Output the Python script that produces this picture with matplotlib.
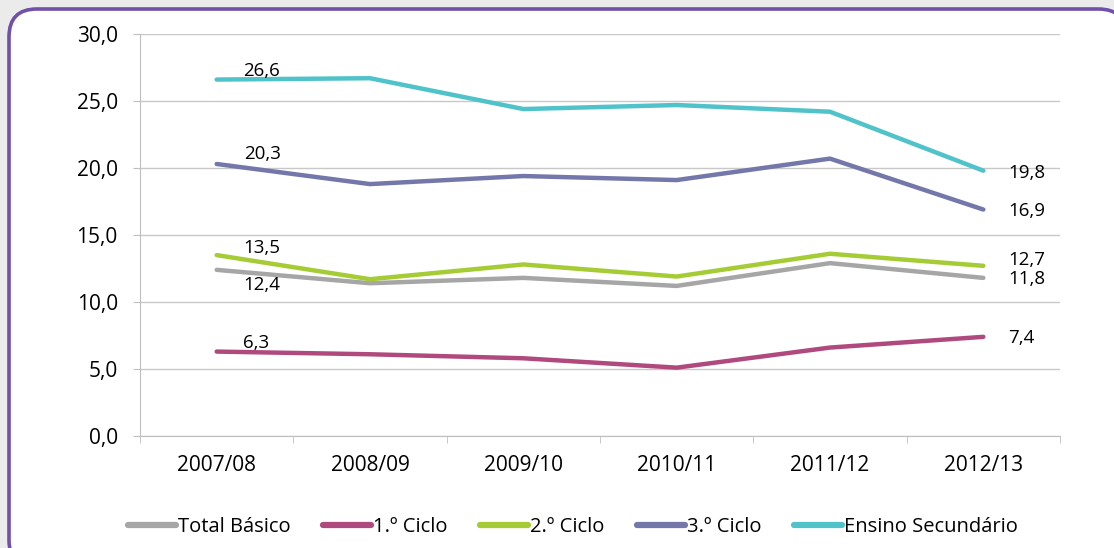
import matplotlib
matplotlib.use("Agg")
import matplotlib.pyplot as plt
from matplotlib.patches import FancyBboxPatch

plt.rcParams['font.family'] = ['Open Sans', 'DejaVu Sans']

years = ['2007/08', '2008/09', '2009/10', '2010/11', '2011/12', '2012/13']
total_basico = [12.4, 11.4, 11.8, 11.2, 12.9, 11.8]
ciclo1 = [6.3, 6.1, 5.8, 5.1, 6.6, 7.4]
ciclo2 = [13.5, 11.7, 12.8, 11.9, 13.6, 12.7]
ciclo3 = [20.3, 18.8, 19.4, 19.1, 20.7, 16.9]
secundario = [26.6, 26.7, 24.4, 24.7, 24.2, 19.8]

series = [
    ('Total Básico', total_basico, '#a6a6a6'),
    ('1.º Ciclo', ciclo1, '#b04a7e'),
    ('2.º Ciclo', ciclo2, '#a5cc35'),
    ('3.º Ciclo', ciclo3, '#7477aa'),
    ('Ensino Secundário', secundario, '#4fc3c9'),
]

W, H = 1114, 548
fig = plt.figure(figsize=(W / 100, H / 100), dpi=100)
fig.patch.set_facecolor('#ebebeb')

# rounded frame, behind everything
frame = FancyBboxPatch((9 / W, -20 / H), (1104 - 9) / W + 0.02, (539 + 20) / H,
                       boxstyle='round,pad=0,rounding_size=0.025',
                       transform=fig.transFigure, facecolor='white',
                       edgecolor='#7050a8', linewidth=2.6, mutation_aspect=W / H,
                       zorder=-10)
fig.patches.append(frame)

ax = fig.add_axes([140 / W, (H - 436) / H, (1060 - 140) / W, (436 - 34) / H])
ax.set_facecolor('none')
ax.set_zorder(1)

x = list(range(len(years)))
for name, vals, col in series:
    ax.plot(x, vals, color=col, linewidth=3.2, label=name, solid_capstyle='round')

# data labels (offsets in points)
first_off = {'Total Básico': (19, -11), '1.º Ciclo': (19, 6), '2.º Ciclo': (19, 5),
             '3.º Ciclo': (20, 7), 'Ensino Secundário': (19, 6)}
last_off = {'Total Básico': (18, -1), '1.º Ciclo': (18, -1), '2.º Ciclo': (18, 4),
            '3.º Ciclo': (18, -1), 'Ensino Secundário': (18, -2)}
for name, vals, col in series:
    dx, dy = first_off[name]
    ax.annotate(f'{vals[0]:.1f}'.replace('.', ','), xy=(x[0], vals[0]),
                xytext=(dx, dy), textcoords='offset points', fontsize=13.5,
                va='center', ha='left', color='black')
    dx, dy = last_off[name]
    ax.annotate(f'{vals[-1]:.1f}'.replace('.', ','), xy=(x[-1], vals[-1]),
                xytext=(dx, dy), textcoords='offset points', fontsize=13.5,
                va='center', ha='left', color='black')

ax.set_xlim(-0.5, len(years) - 0.5)
ax.set_ylim(0, 30)
ax.set_yticks([0, 5, 10, 15, 20, 25, 30])
ax.set_yticklabels([f'{v:.1f}'.replace('.', ',') for v in [0, 5, 10, 15, 20, 25, 30]],
                   fontsize=15)
ax.set_xticks(x)
ax.set_xticklabels(years, fontsize=15)
ax.set_xticks([i - 0.5 for i in range(len(years) + 1)], minor=True)
ax.tick_params(axis='x', which='major', length=0, pad=14)
ax.tick_params(axis='x', which='minor', length=5, color='#bfbfbf')
ax.tick_params(axis='y', length=5, color='#bfbfbf', pad=11)

ax.grid(axis='y', color='#c8c8c8', linewidth=1)
ax.set_axisbelow(True)
for s in ['top', 'right']:
    ax.spines[s].set_visible(False)
ax.spines['left'].set_color('#bfbfbf')
ax.spines['bottom'].set_color('#bfbfbf')

leg = fig.legend(loc='center', bbox_to_anchor=(573 / W, (H - 527) / H), ncol=5,
                 frameon=False, fontsize=14.5, handlelength=2.4, handletextpad=0.1,
                 columnspacing=1.6)
for line in leg.get_lines():
    line.set_linewidth(4.5)
    line.set_solid_capstyle('round')

fig.savefig('out.png', dpi=100, facecolor=fig.get_facecolor())
